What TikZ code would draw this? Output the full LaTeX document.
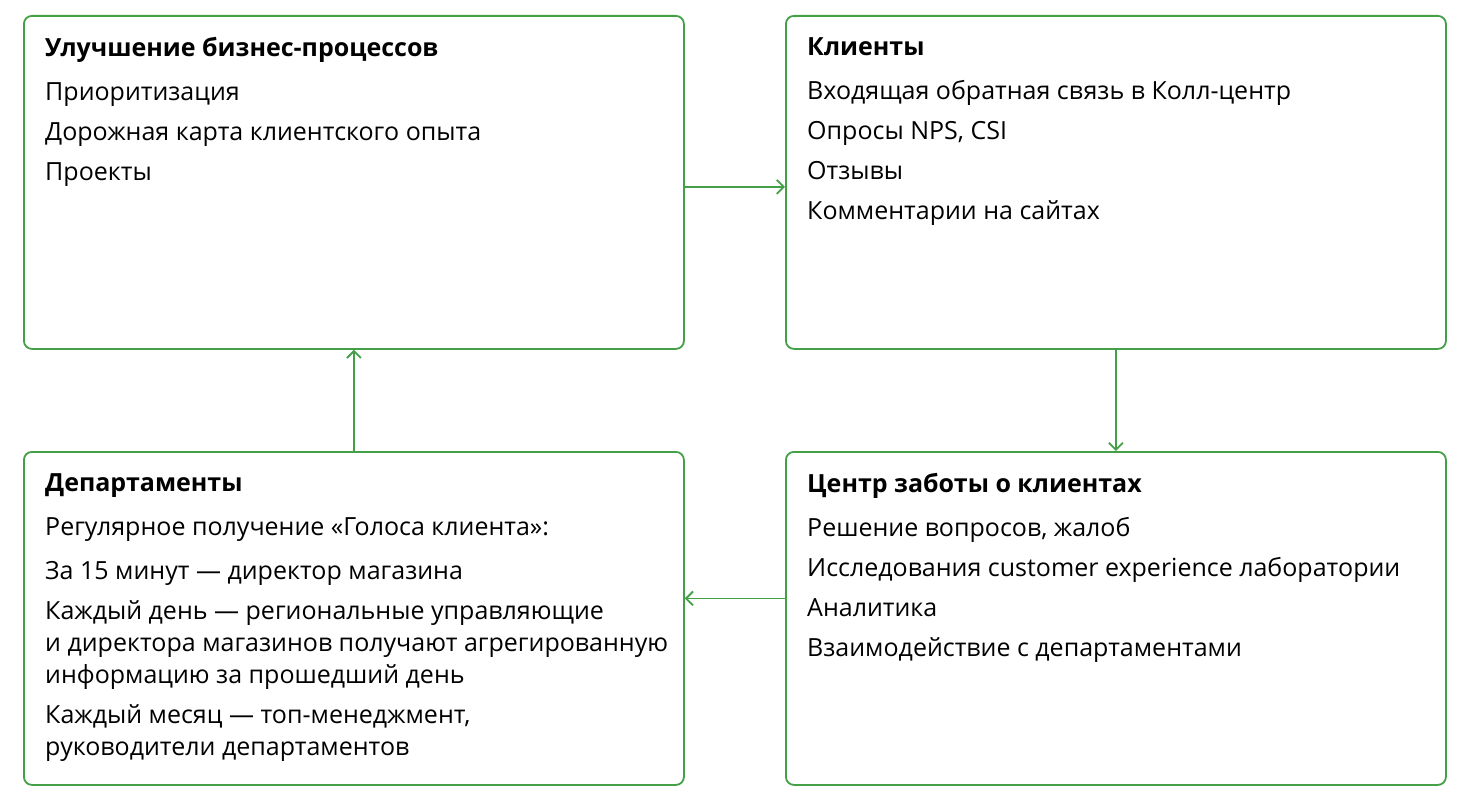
\documentclass[tikz,border=0pt]{standalone}
\usepackage{fontspec}
\setmainfont{Open Sans}
\usetikzlibrary{arrows.meta,positioning}
\definecolor{boxgreen}{RGB}{67,160,71}

\begin{document}
\begin{tikzpicture}[x=1pt,y=-1pt,>={Straight Barb[length=7pt,width=14pt]}]
       \tikzstyle{every box}=[draw=boxgreen, line width=1.8pt, rounded corners=8pt,
         minimum width=660pt, minimum height=333pt, inner sep=0pt, anchor=north west]
       \tikzstyle{box text}=[anchor=north west, align=left, inner sep=0pt,
         font=\fontsize{25}{32}\selectfont]
       \useasboundingbox (0,0) rectangle (1474,800);

       \node[every box] (improve) at (23,15) {};
       \node[every box] (clients) at (785,15) {};
       \node[every box] (depts) at (23,451) {};
       \node[every box] (care) at (785,451) {};

       \node[box text] (improve_t) at ([shift={(22,22)}]improve.north west)
         {\textbf{Улучшение бизнес-процессов}\\[12pt]
          Приоритизация\\[8pt]
          Дорожная карта клиентского опыта\\[8pt]
          Проекты};
       \node[box text] (clients_t) at ([shift={(22,22)}]clients.north west)
         {\textbf{Клиенты}\\[12pt]
          Входящая обратная связь в Колл-центр\\[8pt]
          Опросы NPS, CSI\\[8pt]
          Отзывы\\[8pt]
          Комментарии на сайтах};
       \node[box text] (depts_t) at ([shift={(22,22)}]depts.north west)
         {\textbf{Департаменты}\\[12pt]
          Регулярное получение «Голоса клиента»:\\[12pt]
          За 15 минут — директор магазина\\[8pt]
          Каждый день — региональные управляющие\\
          и директора магазинов получают агрегированную\\
          информацию за прошедший день\\[8pt]
          Каждый месяц — топ-менеджмент,\\
          руководители департаментов};
       \node[box text] (care_t) at ([shift={(22,22)}]care.north west)
         {\textbf{Центр заботы о клиентах}\\[12pt]
          Решение вопросов, жалоб\\[8pt]
          Исследования customer experience лаборатории\\[8pt]
          Аналитика\\[8pt]
          Взаимодействие с департаментами};

       \path[->, boxgreen, line width=1.8pt]
       ([yshift=-4.5pt]improve.east) edge ([yshift=-4.5pt]clients.west)
       (clients.south) edge (care.north)
       ([yshift=20pt]care.west) edge ([yshift=20pt]depts.east)
       (depts.north) edge (improve.south);

     \end{tikzpicture}
\end{document}
